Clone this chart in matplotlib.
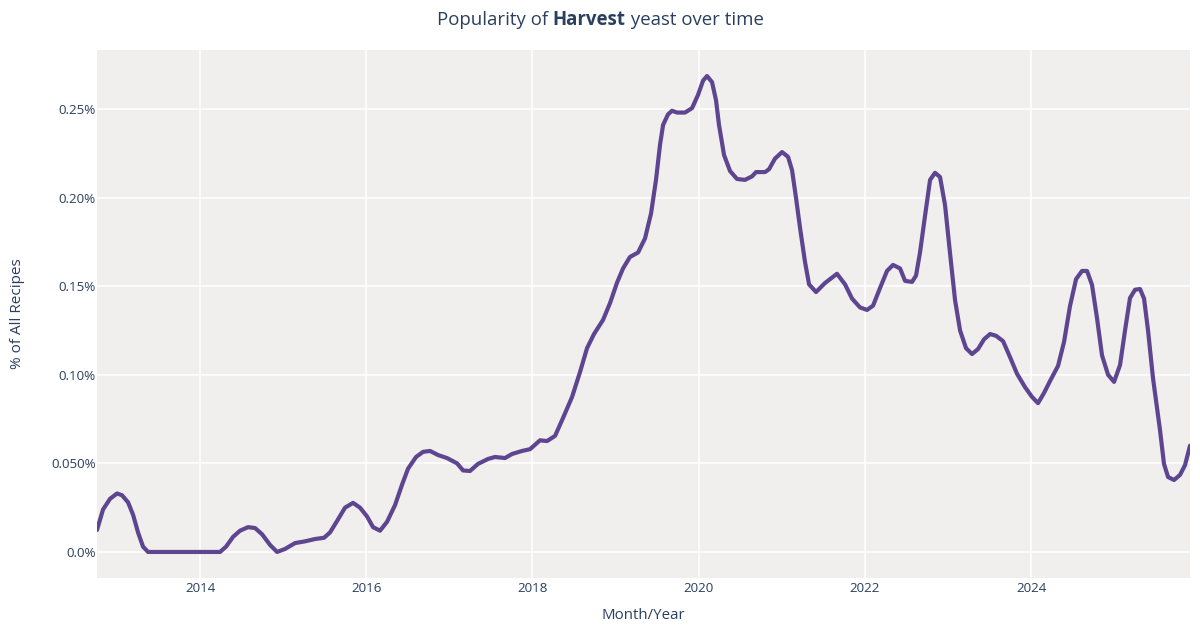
import matplotlib
matplotlib.use("Agg")
import matplotlib.pyplot as plt
import numpy as np

plt.rcParams['font.family'] = ['Open Sans', 'DejaVu Sans']

# decimal year of each sample
years = [2012.760, 2012.833, 2012.917, 2013.001, 2013.061, 2013.134, 2013.194, 2013.254,
         2013.314, 2013.374, 2013.6, 2013.9, 2014.1, 2014.241, 2014.313, 2014.397, 2014.481,
         2014.578, 2014.662, 2014.746, 2014.842, 2014.927, 2015.023, 2015.143, 2015.264,
         2015.384, 2015.492, 2015.564, 2015.649, 2015.745, 2015.841, 2015.925, 2016.010,
         2016.082, 2016.166, 2016.250, 2016.347, 2016.431, 2016.503, 2016.599, 2016.684,
         2016.768, 2016.864, 2016.972, 2017.093, 2017.165, 2017.249, 2017.345, 2017.466,
         2017.550, 2017.670, 2017.755, 2017.875, 2017.971, 2018.091, 2018.176, 2018.272,
         2018.368, 2018.477, 2018.573, 2018.657, 2018.741, 2018.850, 2018.934, 2019.018,
         2019.090, 2019.174, 2019.271, 2019.355, 2019.427, 2019.487, 2019.535, 2019.572,
         2019.632, 2019.680, 2019.740, 2019.836, 2019.921, 2019.993, 2020.053, 2020.101,
         2020.161, 2020.209, 2020.245, 2020.306, 2020.378, 2020.462, 2020.558, 2020.643,
         2020.691, 2020.799, 2020.847, 2020.919, 2021.004, 2021.076, 2021.124, 2021.172,
         2021.220, 2021.280, 2021.329, 2021.413, 2021.521, 2021.665, 2021.762, 2021.846,
         2021.942, 2022.026, 2022.099, 2022.183, 2022.267, 2022.339, 2022.424, 2022.484,
         2022.568, 2022.616, 2022.664, 2022.724, 2022.785, 2022.845, 2022.905, 2022.965,
         2023.025, 2023.086, 2023.146, 2023.218, 2023.290, 2023.362, 2023.434, 2023.507,
         2023.579, 2023.663, 2023.747, 2023.832, 2023.928, 2024.012, 2024.084, 2024.156,
         2024.229, 2024.325, 2024.397, 2024.469, 2024.542, 2024.614, 2024.674, 2024.734,
         2024.794, 2024.854, 2024.927, 2024.999, 2025.071, 2025.131, 2025.191, 2025.252,
         2025.312, 2025.360, 2025.408, 2025.468, 2025.552, 2025.600, 2025.649, 2025.721,
         2025.793, 2025.853, 2025.913]

# percent of all recipes
pct = [0.0124, 0.024, 0.030, 0.033, 0.032, 0.028, 0.021, 0.011,
       0.003, 0.0, 0.0, 0.0, 0.0, 0.0, 0.003, 0.0085, 0.012,
       0.014, 0.0135, 0.010, 0.004, 0.0, 0.0017, 0.005, 0.006,
       0.0073, 0.008, 0.011, 0.0175, 0.025, 0.0277, 0.025, 0.020,
       0.014, 0.012, 0.017, 0.0265, 0.038, 0.047, 0.0536, 0.0565,
       0.057, 0.0547, 0.053, 0.050, 0.046, 0.0457, 0.0497, 0.0525,
       0.0536, 0.053, 0.0553, 0.057, 0.058, 0.063, 0.0626, 0.0655,
       0.0756, 0.0875, 0.1016, 0.115, 0.123, 0.131, 0.1405, 0.152,
       0.160, 0.1665, 0.169, 0.177, 0.191, 0.210, 0.2297, 0.241,
       0.247, 0.249, 0.248, 0.248, 0.2505, 0.258, 0.266, 0.2686,
       0.2652, 0.255, 0.241, 0.224, 0.215, 0.2105, 0.210, 0.212,
       0.2144, 0.2144, 0.216, 0.222, 0.2257, 0.223, 0.2155, 0.1998,
       0.183, 0.1637, 0.151, 0.1467, 0.1518, 0.157, 0.151, 0.143,
       0.138, 0.1366, 0.139, 0.149, 0.1586, 0.162, 0.160, 0.153,
       0.1524, 0.156, 0.169, 0.1896, 0.210, 0.214, 0.2116, 0.1958,
       0.1687, 0.142, 0.125, 0.115, 0.1117, 0.1145, 0.120, 0.123,
       0.122, 0.119, 0.110, 0.1005, 0.093, 0.0875, 0.084, 0.0897,
       0.0965, 0.105, 0.1185, 0.1388, 0.154, 0.1586, 0.1586, 0.1507,
       0.132, 0.111, 0.100, 0.096, 0.1055, 0.125, 0.1433, 0.148,
       0.1484, 0.143, 0.125, 0.098, 0.0688, 0.0497, 0.0423, 0.0406,
       0.0435, 0.049, 0.060]

xticks = [2014, 2016, 2018, 2020, 2022, 2024]
xtick_labels = ["2014", "2016", "2018", "2020", "2022", "2024"]
yticks = [0.0, 0.05, 0.10, 0.15, 0.20, 0.25]
ytick_labels = ["0.0%", "0.050%", "0.10%", "0.15%", "0.20%", "0.25%"]

TXT = '#2a3f5f'
fig = plt.figure(figsize=(12, 6.3), dpi=100)
ax = fig.add_axes([97/1200, 1-578/630, (1190-97)/1200, (578-50)/630])
ax.set_facecolor('#f0efee')
ax.plot(years, pct, color='#5e4590', lw=3.0, solid_joinstyle='round', solid_capstyle='round', zorder=3)
ax.set_xlim(2012.760, 2025.913)
ax.set_ylim(-0.0147, 0.2833)
ax.set_xticks(xticks)
ax.set_xticklabels(xtick_labels)
ax.set_yticks(yticks)
ax.set_yticklabels(ytick_labels)
ax.grid(True, color='white', lw=1.1, zorder=0)
ax.set_axisbelow(True)
for s in ax.spines.values():
    s.set_visible(False)
ax.tick_params(length=0, labelsize=9.6, colors=TXT)
ax.tick_params(axis='x', pad=3)
ax.tick_params(axis='y', pad=1)
ax.set_xlabel("Month/Year", fontsize=10.8, color=TXT, labelpad=9)
ax.set_ylabel("% of All Recipes", fontsize=11, color=TXT, labelpad=19)

# title with bold segment
parts = [("Popularity of ", 'normal'), ("Harvest", 'bold'), (" yeast over time", 'normal')]
fig.canvas.draw()
r = fig.canvas.get_renderer()
texts = []
widths = []
for s, w in parts:
    t = fig.text(0, 1-20/630, s, fontsize=13.4, fontweight=w, color=TXT, va='center', ha='left')
    bb = t.get_window_extent(renderer=r)
    texts.append(t)
    widths.append(bb.width)
total = sum(widths)
x0 = 600 - total/2
for t, w in zip(texts, widths):
    t.set_x(x0/1200)
    x0 += w

fig.savefig("out.png", dpi=100)
